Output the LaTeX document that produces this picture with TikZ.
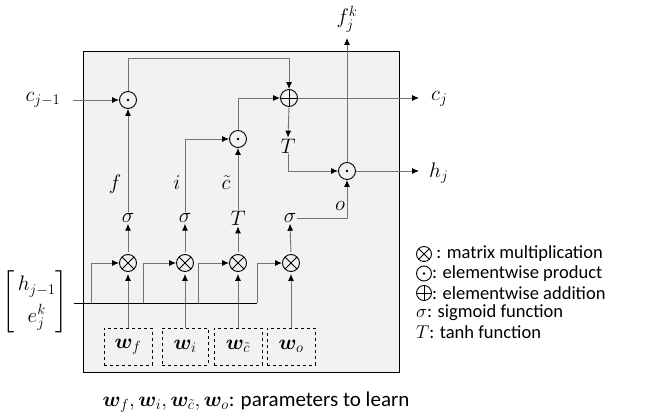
\RequirePackage{fix-cm}
\documentclass[tikz,border=0pt]{standalone}
\usepackage{amsmath,bm}
\usepackage{fontspec}
\setmainfont{Carlito}
\usetikzlibrary{arrows.meta}
\begin{document}
\begin{tikzpicture}[x=1pt,y=-1pt,
  every node/.style={font=\fontsize{21}{25}\selectfont},
  ln/.style={draw=black!55, line width=0.9pt},
  arr/.style={ln, -{Latex[black,length=7pt,width=6pt]}},
  opnode/.style={circle, draw=black, line width=0.9pt, minimum size=17pt, inner sep=0pt},
  odotop/.style={opnode, path picture={\fill[black] (path picture bounding box.center) circle (1.3pt);}},
  otimesop/.style={opnode, path picture={\draw[black,line width=0.9pt] (path picture bounding box.north west) -- (path picture bounding box.south east) (path picture bounding box.north east) -- (path picture bounding box.south west);}},
  oplusop/.style={opnode, path picture={\draw[black,line width=0.9pt] (path picture bounding box.north) -- (path picture bounding box.south) (path picture bounding box.east) -- (path picture bounding box.west);}},
  legsym/.style={minimum size=15pt},
  wbox/.style={draw=black, dashed, line width=0.9pt, minimum width=48pt, minimum height=37pt, inner sep=0pt},
  lbl/.style={inner sep=1pt},
  legtxt/.style={anchor=west, inner sep=0pt, font=\fontsize{18.5}{20}\selectfont}
]
\useasboundingbox (0,0) rectangle (646,420);
% main box
\node[draw=black, fill=black!5, line width=1pt, minimum width=316pt, minimum height=321pt, inner sep=0pt, anchor=north west] (frame) at (83,51) {};

% operators
\node[odotop] (o1) at (128,100) {};
\node[oplusop] (pl) at (289,98) {};
\node[odotop] (o2) at (238,139) {};
\node[odotop] (o3) at (347,171) {};

\node[lbl] (T1) at (288,146) {$T$};

% sigma row
\node[lbl] (s1) at (128,218) {$\sigma$};
\node[lbl] (s2) at (185,218) {$\sigma$};
\node[lbl] (t3) at (238,218) {$T$};
\node[lbl] (s4) at (290,218) {$\sigma$};

% otimes row
\node[otimesop] (m1) at (128,263) {};
\node[otimesop] (m2) at (185,263) {};
\node[otimesop] (m3) at (238,263) {};
\node[otimesop] (m4) at (291,263) {};

% weight boxes
\node[wbox] (wf) at (128,346.5) {$\bm{w}_{f}$};
\node[wbox, minimum width=46pt] (wi) at (185,346.5) {$\bm{w}_{i}$};
\node[wbox] (wc) at (238,346.5) {$\bm{w}_{\tilde{c}}$};
\node[wbox] (wo) at (291,346.5) {$\bm{w}_{o}$};

% labels
\node[lbl] (fl) at (115,184) {$f$};
\node[lbl] (il) at (177,183) {$i$};
\node[lbl] (cl) at (226,183) {$\tilde{c}$};
\node[lbl] (ol) at (340,206) {$o$};

\node[lbl] (cjm) at (43,100) {$c_{j-1}$};
\node[lbl, anchor=west] (cj) at (430,99) {$c_{j}$};
\node[lbl, anchor=west] (hj) at (428,173) {$h_{j}$};
\node[lbl] (fjk) at (347,19) {$f_{j}^{k}$};
\node[lbl, inner sep=0pt] (inp) at (35,302) {$\left[\begin{array}{@{\,}c@{}} h_{j-1}\\[6pt] e_{j}^{k}\end{array}\right]$};

% connectors
\draw[arr] (73,100) coordinate (cin) -- (o1.west);
\draw[arr] (o1.north) |- (289,58) coordinate (tp) -- (pl.north);
\draw[arr] (pl.east) -- (419,98) coordinate (cje);
\draw[arr] (pl.south) -- (T1.north);
\draw[arr] (T1.south) |- (o3.west);
\draw[arr] (o3.east) -- (419,171) coordinate (hje);
\draw[arr] (o3.north) -- (347,38) coordinate (fje);
\draw[arr] (s1.north) -- (o1.south);
\draw[arr] (s2.north) |- (o2.west);
\draw[arr] (t3.north) -- (o2.south);
\draw[arr] (o2.north) |- (pl.west);
\draw[arr] (s4.east) -| (o3.south);

\foreach \m/\s in {m1/s1,m2/s2,m3/t3,m4/s4}{
  \draw[arr, shorten <=2pt] (\m.north) -- (\s.south);
}
\foreach \w/\m in {wf/m1,wi/m2,wc/m3,wo/m4}{
  \draw[arr, shorten >=2pt] (\w.north) -- (\m.south);
}

% input line
\draw[line width=0.9pt, black] (74,303) coordinate (ia) -- (257,303) coordinate (ib);
\draw[arr] (91,303) |- (m1.west);
\draw[arr] (143,303) |- (m2.west);
\draw[arr] (198,303) |- (m3.west);
\draw[arr] (257,303) |- (m4.west);

% legend
\node[otimesop, legsym] (lg1) at (424,254) {};
\node[legtxt] (lt1) at (433,254) {\,: matrix multiplication};
\node[odotop, legsym] (lg2) at (424,273.5) {};
\node[legtxt] (lt2) at (432,273.5) {: elementwise product};
\node[oplusop, legsym] (lg3) at (424,293) {};
\node[legtxt] (lt3) at (432,293) {: elementwise addition};
\node[legtxt] (lt4) at (416,312.5) {$\sigma$: sigmoid function};
\node[legtxt] (lt5) at (416,332) {$T$: tanh function};

% bottom
\node[inner sep=0pt, font=\fontsize{21}{23}\selectfont] (bot) at (256,402) {$\bm{w}_{f},\bm{w}_{i},\bm{w}_{\tilde{c}},\bm{w}_{o}$: parameters to learn};
\end{tikzpicture}
\end{document}
